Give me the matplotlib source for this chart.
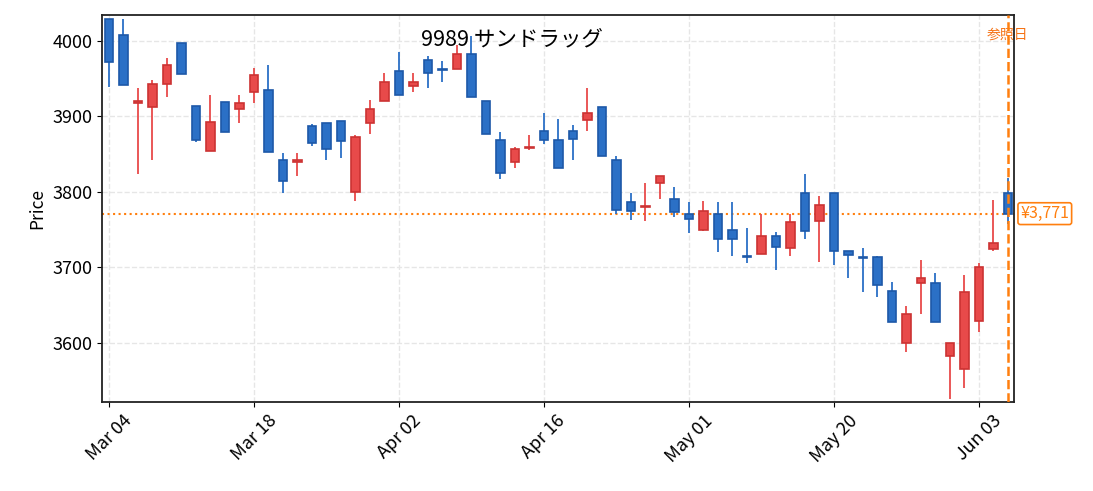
import matplotlib
matplotlib.use('Agg')
import matplotlib.pyplot as plt
import numpy as np

plt.rcParams['font.family'] = ['Noto Sans CJK JP', 'DejaVu Sans']

TITLE = '9989 サンドラッグ'

# 日足 OHLC (取引日順)
opens = [4029, 4008, 3918, 3913, 3943, 3997, 3914, 3854, 3919, 3910,
         3932, 3935, 3842, 3839, 3887, 3891, 3894, 3800, 3891, 3921,
         3960, 3940, 3975, 3963, 3963, 3983, 3920, 3869, 3839, 3858,
         3881, 3869, 3881, 3895, 3912, 3842, 3787, 3780, 3811, 3791,
         3771, 3749, 3771, 3749, 3714, 3717, 3741, 3726, 3799, 3761,
         3799, 3721, 3713, 3713, 3669, 3599, 3679, 3679, 3582, 3565,
         3629, 3724, 3799]
closes = [3972, 3941, 3920, 3943, 3968, 3956, 3869, 3892, 3879, 3918,
          3955, 3853, 3814, 3842, 3865, 3857, 3867, 3873, 3910, 3946,
          3929, 3946, 3957, 3962, 3983, 3926, 3876, 3825, 3857, 3859,
          3869, 3831, 3870, 3905, 3847, 3776, 3775, 3781, 3821, 3773,
          3764, 3774, 3737, 3737, 3713, 3741, 3727, 3760, 3748, 3783,
          3721, 3716, 3712, 3676, 3627, 3638, 3686, 3627, 3600, 3667,
          3700, 3732, 3771]
highs = [4029, 4029, 3937, 3948, 3977, 3997, 3914, 3929, 3919, 3928,
         3964, 3968, 3852, 3851, 3890, 3891, 3894, 3875, 3922, 3958,
         3986, 3958, 3980, 3974, 3995, 4007, 3920, 3879, 3860, 3875,
         3905, 3896, 3889, 3937, 3912, 3847, 3798, 3811, 3821, 3806,
         3786, 3788, 3786, 3786, 3752, 3770, 3746, 3770, 3824, 3794,
         3799, 3722, 3725, 3715, 3680, 3649, 3710, 3692, 3600, 3689,
         3705, 3789, 3818]
lows = [3939, 3941, 3824, 3842, 3926, 3956, 3866, 3854, 3879, 3891,
        3918, 3853, 3799, 3821, 3861, 3842, 3845, 3788, 3876, 3921,
        3929, 3933, 3937, 3946, 3963, 3926, 3876, 3817, 3832, 3855,
        3864, 3831, 3842, 3880, 3847, 3771, 3763, 3761, 3791, 3767,
        3745, 3748, 3720, 3715, 3705, 3717, 3696, 3715, 3738, 3707,
        3703, 3685, 3667, 3660, 3627, 3588, 3638, 3627, 3525, 3540,
        3614, 3722, 3757]

tick_pos = [0, 10, 20, 30, 40, 50, 60]
tick_labels = ['Mar 04', 'Mar 18', 'Apr 02', 'Apr 16', 'May 01', 'May 20', 'Jun 03']

ref_price = 3771
ref_idx = 62

UP_FACE, UP_EDGE = '#e84a4a', '#cc3333'
DN_FACE, DN_EDGE = '#2b70c6', '#1d58a8'
REF_COLOR = '#ff7f0e'

fig = plt.figure(figsize=(10.93, 4.91), dpi=100)
ax = fig.add_axes([0.0933, 0.181, 0.8344, 0.7885])

x = np.arange(len(opens))
o = np.array(opens)
c = np.array(closes)
up = c >= o

for i in x:
    face = UP_FACE if up[i] else DN_FACE
    edge = UP_EDGE if up[i] else DN_EDGE
    # ヒゲ
    ax.vlines(i, lows[i], highs[i], color=face, linewidth=1.3, zorder=2)
    # 実体
    bottom = min(o[i], c[i])
    height = max(abs(c[i] - o[i]), 1.2)
    ax.bar(i, height, bottom=bottom, width=0.6, color=face,
           edgecolor=edge, linewidth=1.2, zorder=3)

# 参照ライン
ax.axhline(ref_price, color=REF_COLOR, linestyle=':', linewidth=1.5, zorder=1)
ax.axvline(ref_idx, color=REF_COLOR, linestyle='--', linewidth=1.8, zorder=4)
ax.text(ref_idx, 4008, '参照日', color='#f57316', fontsize=10,
        ha='center', va='center', clip_on=False)
ax.annotate('¥{:,}'.format(ref_price), xy=(1.007, ref_price),
            xycoords=('axes fraction', 'data'), color=REF_COLOR, fontsize=11.5,
            ha='left', va='center', annotation_clip=False,
            bbox=dict(boxstyle='round,pad=0.15', fc='white', ec=REF_COLOR, lw=1.2))

ax.text(0.45, 0.937, TITLE, transform=ax.transAxes, ha='center', va='center',
        fontsize=15.5)

ax.set_xlim(-0.48, 62.42)
ax.set_ylim(3521, 4034.5)
ax.set_xticks(tick_pos)
ax.set_xticklabels(tick_labels, rotation=45, fontsize=13)
ax.set_yticks([3600, 3700, 3800, 3900, 4000])
ax.tick_params(axis='y', labelsize=13)
ax.set_ylabel('Price', fontsize=12.5)
ax.grid(True, linestyle='--', color='#e6e6e6', linewidth=1.0, zorder=0)
ax.set_axisbelow(True)
for s in ax.spines.values():
    s.set_color('#222222')
    s.set_linewidth(1.3)

plt.savefig('out.png', dpi=100)
